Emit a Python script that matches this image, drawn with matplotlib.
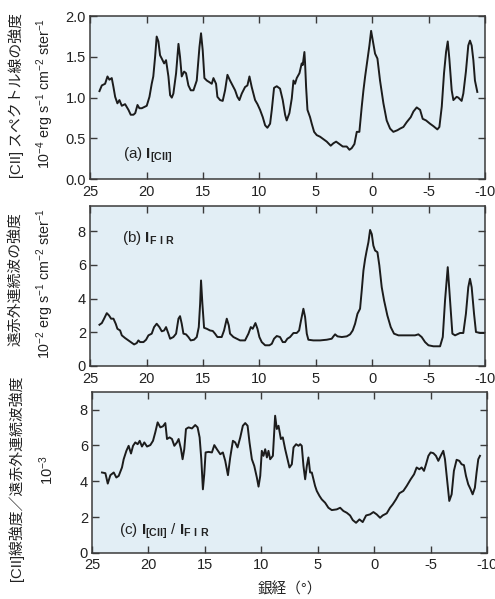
import matplotlib
matplotlib.use("Agg")
import matplotlib.pyplot as plt

plt.rcParams['font.family'] = ['Liberation Sans', 'Noto Sans CJK JP', 'DejaVu Sans']
plt.rcParams['mathtext.fontset'] = 'custom'
plt.rcParams['mathtext.rm'] = 'Liberation Sans'
plt.rcParams['mathtext.bf'] = 'Liberation Sans:bold'
plt.rcParams['mathtext.default'] = 'regular'
plt.rcParams['axes.unicode_minus'] = False

# (a) [CII] line intensity, 1e-4 erg s-1 cm-2 ster-1
lon_cii = [24.17, 23.96, 23.67, 23.46, 23.29, 23.08, 22.93, 22.78, 22.58, 22.4, 22.19, 21.9,
           21.6, 21.4, 21.16, 21.0, 20.8, 20.63, 20.42, 19.98, 19.74, 19.54, 19.4, 19.24, 19.1,
           18.95, 18.8, 18.65, 18.44, 18.27, 18.06, 17.91, 17.76, 17.62, 17.38, 17.17, 17.03,
           16.88, 16.67, 16.5, 16.29, 16.08, 15.84, 15.55, 15.31, 15.17, 15.02, 14.87, 14.66,
           14.43, 14.22, 14.07, 13.84, 13.72, 13.48, 13.25, 13.04, 12.83, 12.6, 12.3, 12.15,
           11.95, 11.77, 11.56, 11.27, 11.06, 10.88, 10.68, 10.38, 10.17, 9.94, 9.7, 9.49, 9.29,
           9.05, 8.9, 8.7, 8.46, 8.17, 7.93, 7.72, 7.58, 7.34, 7.13, 6.98, 6.84, 6.69, 6.45,
           6.25, 6.16, 6.01, 5.95, 5.86, 5.74, 5.51, 5.36, 5.15, 4.92, 4.62, 4.33, 4.03, 3.68,
           3.44, 3.2, 2.91, 2.61, 2.26, 2.02, 1.82, 1.58, 1.37, 1.14, 0.93, 0.78, 0.63, 0.43,
           0.25, 0.1, -0.04, -0.25, -0.46, -0.69, -0.99, -1.28, -1.58, -1.87, -2.23, -2.47,
           -2.76, -3.06, -3.41, -3.65, -3.94, -4.24, -4.47, -4.77, -5.12, -5.42, -5.77, -5.95,
           -6.16, -6.36, -6.54, -6.69, -6.83, -7.04, -7.19, -7.48, -7.63, -7.92, -8.07, -8.3,
           -8.51, -8.66, -8.81, -8.96, -9.1, -9.31]
i_cii = [1.08, 1.15, 1.17, 1.26, 1.22, 1.24, 1.13, 1.01, 0.93, 0.97, 0.90, 0.92,
         0.85, 0.79, 0.79, 0.81, 0.91, 0.87, 0.87, 0.90, 1.01, 1.17, 1.26, 1.50, 1.75,
         1.69, 1.52, 1.48, 1.42, 1.46, 1.26, 1.03, 1.00, 1.05, 1.30, 1.66, 1.50,
         1.26, 1.32, 1.30, 1.15, 1.09, 1.09, 1.21, 1.62, 1.79, 1.58, 1.24, 1.21,
         1.19, 1.17, 1.24, 1.17, 1.01, 0.97, 0.96, 1.09, 1.28, 1.21, 1.13, 1.09,
         1.01, 0.97, 1.05, 1.13, 1.15, 1.26, 1.13, 0.97, 0.92, 0.85, 0.76, 0.66, 0.63,
         0.68, 0.85, 1.12, 1.14, 1.11, 0.97, 0.79, 0.72, 0.81, 0.99, 1.21, 1.17, 1.24, 1.30,
         1.42, 1.40, 1.56, 1.42, 1.13, 0.85, 0.76, 0.68, 0.58, 0.54, 0.52, 0.49, 0.46, 0.41,
         0.44, 0.46, 0.43, 0.40, 0.40, 0.36, 0.38, 0.43, 0.58, 0.58, 0.89, 1.09, 1.26, 1.46,
         1.64, 1.82, 1.71, 1.54, 1.48, 1.21, 0.93, 0.72, 0.62, 0.58, 0.60, 0.62,
         0.64, 0.70, 0.76, 0.83, 0.88, 0.85, 0.74, 0.72, 0.68, 0.65, 0.61, 0.64,
         0.89, 1.30, 1.56, 1.69, 1.48, 1.09, 0.97, 1.01, 1.00, 0.96, 1.05, 1.32,
         1.64, 1.70, 1.64, 1.46, 1.21, 1.07]

# (b) far-infrared continuum intensity, 1e-2 erg s-1 cm-2 ster-1
lon_fir = [24.17, 23.96, 23.76, 23.52, 23.32, 23.14, 22.93, 22.73, 22.58, 22.34, 22.19, 21.9,
           21.6, 21.31, 21.1, 20.87, 20.72, 20.57, 20.27, 20.04, 19.83, 19.54, 19.33, 19.1,
           18.86, 18.65, 18.44, 18.27, 18.06, 17.91, 17.62, 17.38, 17.17, 17.03, 16.88, 16.73,
           16.5, 16.29, 16.08, 15.79, 15.55, 15.37, 15.25, 15.17, 15.05, 14.9, 14.66, 14.37,
           14.13, 13.93, 13.72, 13.34, 13.13, 12.89, 12.71, 12.6, 12.3, 12.01, 11.71, 11.27,
           10.97, 10.76, 10.59, 10.35, 10.17, 10.0, 9.79, 9.49, 9.11, 8.9, 8.7, 8.46, 8.17,
           7.93, 7.72, 7.52, 7.28, 6.98, 6.69, 6.48, 6.31, 6.1, 5.95, 5.8, 5.66, 5.22, 4.62,
           4.03, 3.59, 3.44, 3.29, 3.08, 2.7, 2.26, 1.96, 1.73, 1.52, 1.31, 1.08, 0.93, 0.78,
           0.63, 0.49, 0.34, 0.19, 0.04, -0.1, -0.25, -0.46, -0.63, -0.84, -1.05, -1.34, -1.64,
           -1.93, -2.32, -2.76, -3.35, -3.79, -4.09, -4.38, -4.68, -4.98, -5.42, -6.01, -6.25,
           -6.45, -6.69, -6.9, -7.1, -7.34, -7.78, -8.07, -8.3, -8.51, -8.66, -8.81, -9.02,
           -9.19, -9.54, -9.9]
i_fir = [2.45, 2.55, 2.81, 3.14, 3.0, 2.81, 2.81, 2.51, 2.21, 2.11, 1.82, 1.66,
         1.52, 1.38, 1.28, 1.36, 1.52, 1.42, 1.42, 1.56, 1.82, 1.92, 2.31, 2.51,
         2.31, 2.06, 2.11, 2.31, 1.92, 1.62, 1.72, 1.92, 2.81, 2.96, 2.51, 1.92,
         1.88, 1.72, 1.52, 1.56, 1.72, 2.31, 3.70, 5.08, 3.70, 2.27, 2.21, 2.11,
         2.08, 1.92, 1.72, 1.72, 2.11, 2.81, 2.41, 1.92, 1.72, 1.62, 1.52, 1.52,
         1.92, 2.31, 2.21, 2.55, 2.21, 1.72, 1.42, 1.23, 1.23, 1.32, 1.62, 1.78, 1.72,
         1.42, 1.42, 1.62, 1.72, 1.96, 1.96, 2.11, 2.71, 3.40, 2.91, 1.92, 1.56, 1.52, 1.52,
         1.56, 1.62, 1.76, 1.88, 1.76, 1.72, 1.76, 1.88, 2.11, 2.51, 3.10, 3.40, 4.49, 5.67,
         6.36, 6.86, 7.35, 8.08, 7.83, 7.15, 6.86, 6.76, 5.97, 4.68, 3.89, 3.00, 2.31,
         1.92, 1.82, 1.82, 1.82, 1.82, 1.88, 1.72, 1.42, 1.23, 1.17, 1.17, 1.72,
         3.89, 5.87, 3.89, 1.92, 1.82, 1.96, 1.96, 3.10, 4.68, 5.18, 4.68, 3.10,
         2.02, 1.96, 1.96]

# (c) ratio I[CII] / IFIR, 1e-3
lon_ratio = [24.12, 23.82, 23.61, 23.38, 23.08, 22.85, 22.64, 22.35, 22.2, 21.96, 21.76, 21.55,
             21.37, 21.17, 20.96, 20.78, 20.58, 20.37, 20.13, 19.84, 19.6, 19.4, 19.19, 18.95,
             18.72, 18.51, 18.36, 18.13, 17.92, 17.71, 17.48, 17.33, 17.12, 16.98, 16.83, 16.68,
             16.45, 16.15, 15.86, 15.65, 15.47, 15.32, 15.18, 15.06, 14.94, 14.68, 14.38, 14.17,
             13.94, 13.64, 13.41, 13.2, 12.96, 12.76, 12.52, 12.32, 12.11, 11.87, 11.64, 11.43,
             11.22, 11.05, 10.84, 10.63, 10.4, 10.25, 10.1, 9.96, 9.81, 9.66, 9.51, 9.37, 9.22,
             8.98, 8.78, 8.63, 8.48, 8.27, 8.1, 7.89, 7.68, 7.51, 7.3, 7.15, 6.92, 6.71, 6.56,
             6.42, 6.27, 6.12, 5.97, 5.83, 5.68, 5.53, 5.38, 5.24, 5.09, 4.85, 4.65, 4.35, 4.06,
             3.76, 3.32, 3.02, 2.73, 2.43, 2.14, 1.9, 1.61, 1.31, 1.02, 0.72, 0.37, 0.07, -0.22,
             -0.52, -0.75, -1.11, -1.4, -1.64, -1.93, -2.23, -2.58, -2.88, -3.23, -3.53, -3.76,
             -4.0, -4.2, -4.41, -4.59, -4.8, -5.0, -5.24, -5.47, -5.68, -5.89, -6.12, -6.27,
             -6.48, -6.65, -6.86, -7.06, -7.3, -7.54, -7.74, -7.95, -8.13, -8.33, -8.54, -8.72,
             -8.92, -9.07, -9.22, -9.37]
ratio = [4.49, 4.45, 3.87, 4.34, 4.49, 4.21, 4.30, 4.77, 5.23, 5.70, 5.98, 5.55,
         5.98, 6.17, 6.07, 6.26, 5.94, 6.17, 5.94, 6.02, 6.26, 6.73, 7.29, 7.01,
         7.07, 7.25, 6.36, 6.45, 6.36, 5.98, 6.17, 6.36, 5.79, 5.23, 5.79, 6.92,
         7.01, 6.95, 7.14, 7.01, 6.45, 5.23, 3.55, 4.39, 5.61, 5.64, 5.61, 6.02,
         5.79, 5.51, 5.61, 5.14, 4.34, 5.33, 6.26, 6.17, 5.89, 6.45, 7.10, 7.25,
         7.10, 6.17, 5.23, 4.86, 4.21, 3.70, 4.30, 5.70, 5.42, 5.79, 5.33, 5.70, 5.23,
         5.42, 7.66, 6.92, 7.10, 6.36, 6.45, 5.79, 5.23, 4.77, 4.95, 5.89, 6.07, 5.98, 6.07,
         5.98, 4.86, 4.11, 4.86, 5.33, 4.49, 4.49, 4.11, 3.74, 3.46, 3.18, 2.99, 2.80, 2.52,
         2.39, 2.43, 2.52, 2.34, 2.24, 2.09, 1.83, 1.68, 1.87, 1.72, 2.09, 2.15, 2.28, 2.15,
         1.96, 2.09, 2.21, 2.52, 2.71, 2.99, 3.33, 3.46, 3.74, 4.11, 4.39, 4.77,
         4.67, 4.77, 4.58, 4.95, 5.42, 5.61, 5.57, 5.42, 5.14, 5.42, 5.70, 5.23,
         3.93, 2.90, 3.27, 4.58, 5.20, 5.14, 4.95, 4.90, 4.30, 3.83, 3.55, 3.27,
         3.64, 4.49, 5.23, 5.42]

xticks = [25, 20, 15, 10, 5, 0, -5, -10]
xticklabels = ["25", "20", "15", "10", "5", "0", "-5", "-10"]

bg = "#e2eef5"
line_color = "#1c1c1c"
frame_color = "#3a3a3a"

fig = plt.figure(figsize=(4.95, 5.99), dpi=100)
fig.patch.set_facecolor("white")

ax_a = fig.add_axes([0.182, 0.701, 0.798, 0.272])
ax_b = fig.add_axes([0.182, 0.389, 0.798, 0.267])
ax_c = fig.add_axes([0.186, 0.077, 0.798, 0.269])

panels = [
    (ax_a, lon_cii, i_cii, (0, 2.0), [0.0, 0.5, 1.0, 1.5, 2.0], ["0.0", "0.5", "1.0", "1.5", "2.0"]),
    (ax_b, lon_fir, i_fir, (0, 9.5), [0, 2, 4, 6, 8], ["0", "2", "4", "6", "8"]),
    (ax_c, lon_ratio, ratio, (0, 9.0), [0, 2, 4, 6, 8], ["0", "2", "4", "6", "8"]),
]

for ax, x, y, ylim, yt, ytl in panels:
    ax.set_facecolor(bg)
    ax.plot(x, y, color=line_color, lw=1.4)
    ax.set_xlim(25, -10)
    ax.set_ylim(*ylim)
    ax.set_xticks(xticks)
    ax.set_xticklabels(xticklabels)
    ax.set_yticks(yt)
    ax.set_yticklabels(ytl)
    ax.tick_params(direction="in", top=True, right=True, length=5, width=1,
                   color=frame_color, labelsize=10.5, labelcolor="#222222")
    ax.tick_params(axis="x", pad=4)
    ax.tick_params(axis="y", pad=3)
    for s in ax.spines.values():
        s.set_color(frame_color)
        s.set_linewidth(1.1)

# panel labels
ax_a.text(0.084, 0.147, r"(a) $\mathbf{I}_{\mathbf{[CII]}}$", transform=ax_a.transAxes,
          fontsize=11, va="center", color="#222222")
ax_b.text(0.08, 0.80, r"(b) $\mathbf{I}_{\mathbf{F\ I\ R}}$", transform=ax_b.transAxes,
          fontsize=11, va="center", color="#222222")
ax_c.text(0.067, 0.135, r"(c) $\mathbf{I}_{\mathbf{[CII]}}$ / $\mathbf{I}_{\mathbf{F\ I\ R}}$",
          transform=ax_c.transAxes, fontsize=11, va="center", color="#222222")

# y labels
unit_a = r"10$^{-4}$ erg s$^{-1}$ cm$^{-2}$ ster$^{-1}$"
unit_b = r"10$^{-2}$ erg s$^{-1}$ cm$^{-2}$ ster$^{-1}$"
fig.text(16 / 495, 1 - 95 / 599, "[CII] スペクトル線の強度", rotation=90,
         ha="center", va="center", fontsize=10.7, color="#222222")
fig.text(45 / 495, 1 - 94 / 599, unit_a, rotation=90,
         ha="center", va="center", fontsize=10.3, color="#222222")
fig.text(16 / 495, 1 - 279 / 599, "遠赤外連続波の強度", rotation=90,
         ha="center", va="center", fontsize=10.7, color="#222222")
fig.text(45 / 495, 1 - 284 / 599, unit_b, rotation=90,
         ha="center", va="center", fontsize=10.3, color="#222222")
fig.text(16 / 495, 1 - 478 / 599, "[CII]線強度／遠赤外連続波強度", rotation=90,
         ha="center", va="center", fontsize=10.7, color="#222222")
fig.text(47 / 495, 1 - 470 / 599, r"10$^{-3}$", rotation=90,
         ha="center", va="center", fontsize=10.5, color="#222222")

fig.text((92 + 487) / 2 / 495, 1 - 589 / 599, "銀経（°）", ha="center", va="center",
         fontsize=10.5, color="#222222")

fig.savefig("out.png", dpi=100)
